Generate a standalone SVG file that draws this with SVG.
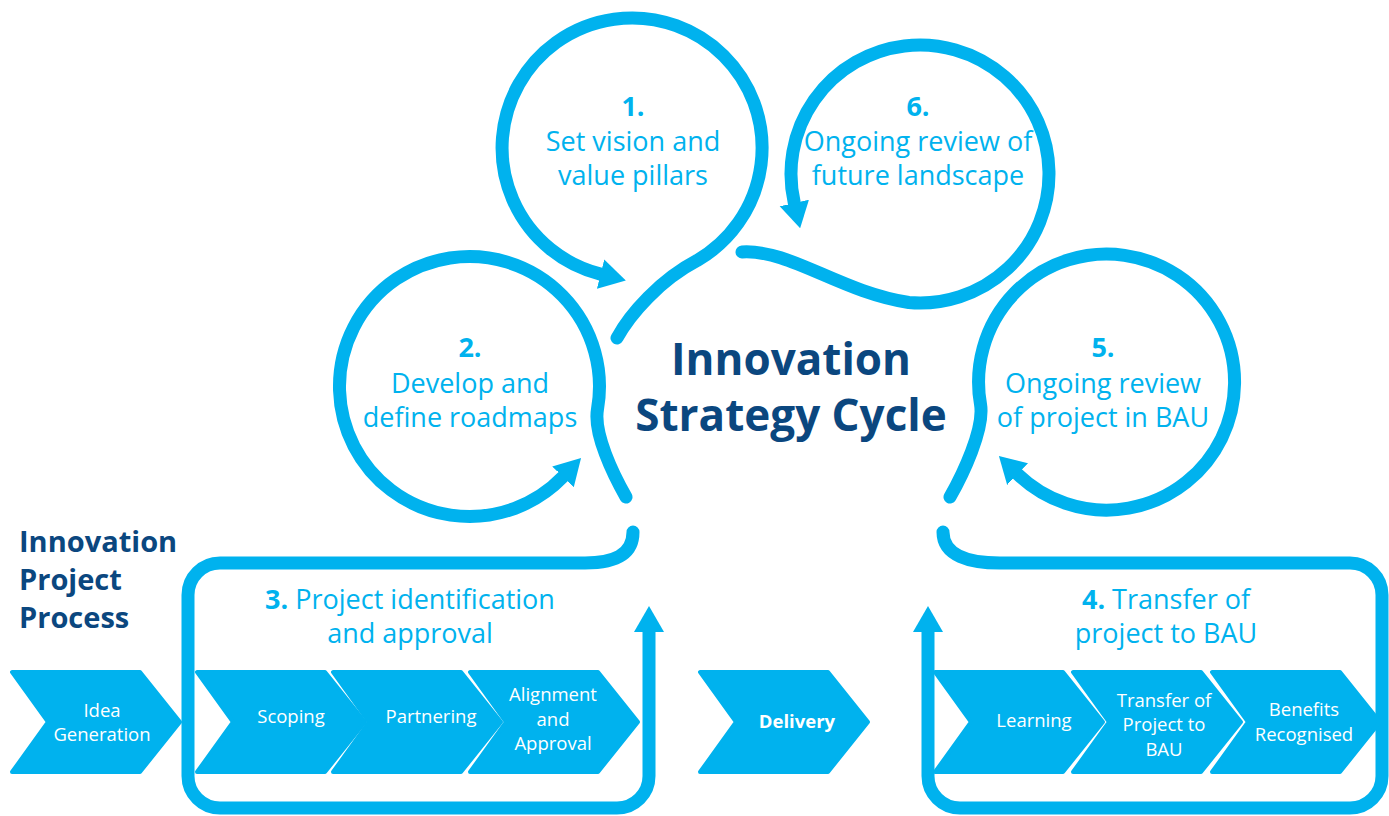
<svg xmlns="http://www.w3.org/2000/svg" width="1389" height="816" viewBox="0 0 1389 816">
  <style>
    .loop { fill: none; stroke: #00B2EE; stroke-width: 13; stroke-linecap: round; stroke-linejoin: round; }
    .chev { fill: #00B2EE; stroke: #00B2EE; stroke-width: 4; stroke-linejoin: round; }
    .lbl { font-family: "Open Sans", "Noto Sans", sans-serif; font-size: 27px; fill: #00B2EE; text-anchor: middle; }
    .num { font-weight: bold; }
    .title { font-family: "Open Sans", "Noto Sans", sans-serif; font-weight: bold; fill: #0B477F; }
    .ct { font-family: "Open Sans", "Noto Sans", sans-serif; font-size: 18.5px; fill: #FFFFFF; text-anchor: middle; }
  </style>
  <defs>
    <marker id="ah" markerUnits="userSpaceOnUse" markerWidth="26" markerHeight="32" viewBox="0 0 26 32" refX="0" refY="16" orient="auto">
      <path d="M0,1 L26,16 L0,31 Z" fill="#00B2EE"/>
    </marker>
    <path id="chevShape" d="M0,0 H128 L168,50 L128,100 H0 L36,50 Z"/>
  </defs>
  <rect width="1389" height="816" fill="#FFFFFF"/>

  <g id="connectors">
    <path id="loop1" class="loop" marker-end="url(#ah)" d="M617,338 C630,314 660,280 697,260.6 A130,130 0 1 0 600.6,274.1"/>
    <path id="loop6" class="loop" marker-end="url(#ah)" d="M742,252 C790,249 840,292 908.8,302.5 A129,129 0 1 0 794.3,203"/>
    <path id="loop2" class="loop" marker-end="url(#ah)" d="M626,497 C613.5,475 593.2,433.7 597.5,409.1 A130,130 0 1 0 563,476.8"/>
    <path id="loop5" class="loop" marker-end="url(#ah)" d="M950,497 C962.5,475 984.8,428.8 980.5,404.2 A128,128 0 1 1 1017.6,474.1"/>
    <path id="loop3" class="loop" marker-end="url(#ah)" d="M633,532 C633,556 612,563 585,563 H220 A32,32 0 0 0 188,595 V776 A32,32 0 0 0 220,808 H617 A32,32 0 0 0 649,776 V632"/>
    <path id="loop4" class="loop" marker-end="url(#ah)" d="M943,532 C943,556 970,563 1000,563 H1350 A32,32 0 0 1 1382,595 V776 A32,32 0 0 1 1350,808 H960 A32,32 0 0 1 928,776 V632"/>
  </g>

  <g id="title">
    <text class="title" x="791" y="375" font-size="44" text-anchor="middle">Innovation</text>
    <text class="title" x="791" y="431" font-size="44" text-anchor="middle">Strategy Cycle</text>
  </g>

  <g id="step1">
    <text class="lbl num" x="633" y="116">1.</text>
    <text class="lbl" x="633" y="151">Set vision and</text>
    <text class="lbl" x="633" y="185">value pillars</text>
  </g>
  <g id="step6">
    <text class="lbl num" x="918" y="116">6.</text>
    <text class="lbl" x="918" y="151">Ongoing review of</text>
    <text class="lbl" x="918" y="185">future landscape</text>
  </g>
  <g id="step2">
    <text class="lbl num" x="470" y="357">2.</text>
    <text class="lbl" x="470" y="393">Develop and</text>
    <text class="lbl" x="470" y="427">define roadmaps</text>
  </g>
  <g id="step5">
    <text class="lbl num" x="1103" y="357">5.</text>
    <text class="lbl" x="1103" y="393">Ongoing review</text>
    <text class="lbl" x="1103" y="427">of project in BAU</text>
  </g>
  <g id="step3">
    <text class="lbl" x="410" y="609"><tspan class="num">3.</tspan> Project identification</text>
    <text class="lbl" x="410" y="643">and approval</text>
  </g>
  <g id="step4">
    <text class="lbl" x="1166" y="609"><tspan class="num">4.</tspan> Transfer of</text>
    <text class="lbl" x="1166" y="643">project to BAU</text>
  </g>

  <g id="project-process-title">
    <text class="title" x="19" y="552" font-size="29">Innovation</text>
    <text class="title" x="19" y="590" font-size="29">Project</text>
    <text class="title" x="19" y="628" font-size="29">Process</text>
  </g>

  <g id="idea-generation">
    <use href="#chevShape" class="chev" transform="translate(12,672)"/>
    <text class="ct" x="102" y="717">Idea</text>
    <text class="ct" x="102" y="741">Generation</text>
  </g>
  <g id="scoping">
    <use href="#chevShape" class="chev" transform="translate(197,672)"/>
    <text class="ct" x="291" y="723">Scoping</text>
  </g>
  <g id="partnering">
    <use href="#chevShape" class="chev" transform="translate(333,672)"/>
    <text class="ct" x="431" y="723">Partnering</text>
  </g>
  <g id="alignment-approval">
    <use href="#chevShape" class="chev" transform="translate(470,672)"/>
    <text class="ct" x="553" y="701">Alignment</text>
    <text class="ct" x="553" y="726">and</text>
    <text class="ct" x="553" y="750">Approval</text>
  </g>
  <g id="delivery">
    <use href="#chevShape" class="chev" transform="translate(700,672)"/>
    <text class="ct" x="797" y="728" font-weight="bold" font-size="21">Delivery</text>
  </g>
  <g id="learning">
    <use href="#chevShape" class="chev" transform="translate(935,672)"/>
    <text class="ct" x="1034" y="727">Learning</text>
  </g>
  <g id="transfer-to-bau">
    <use href="#chevShape" class="chev" transform="translate(1073,672)"/>
    <text class="ct" x="1164" y="707">Transfer of</text>
    <text class="ct" x="1164" y="731">Project to</text>
    <text class="ct" x="1164" y="756">BAU</text>
  </g>
  <g id="benefits-recognised">
    <use href="#chevShape" class="chev" transform="translate(1212,672)"/>
    <text class="ct" x="1304" y="716">Benefits</text>
    <text class="ct" x="1304" y="741">Recognised</text>
  </g>
</svg>
